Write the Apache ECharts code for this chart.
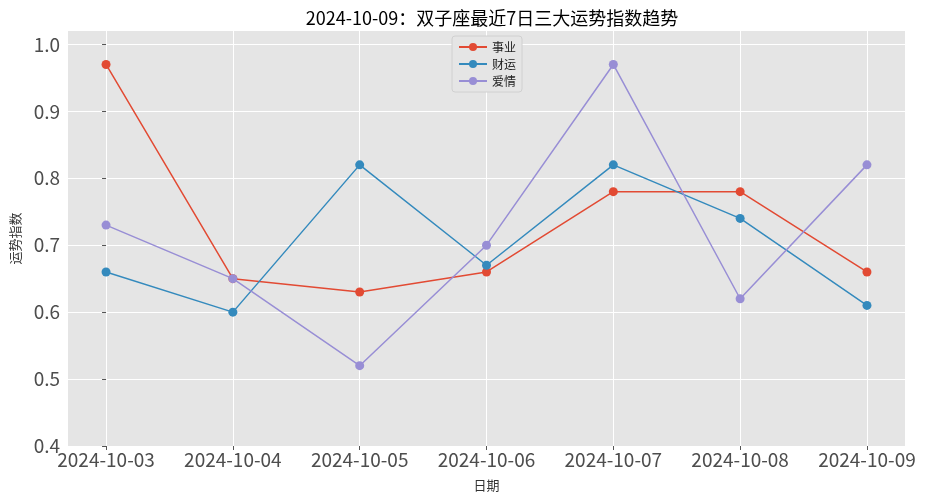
<!DOCTYPE html>
<html><head><meta charset="utf-8">
<script src="https://cdn.jsdelivr.net/npm/echarts@6/dist/echarts.min.js"></script>
<style>html,body{margin:0;padding:0;background:#fff}#c{width:929px;height:500px}</style>
</head><body><div id="c"></div>
<script>
const dates = ['2024-10-03','2024-10-04','2024-10-05','2024-10-06','2024-10-07','2024-10-08','2024-10-09'];
const career = [0.97, 0.65, 0.63, 0.66, 0.78, 0.78, 0.66];
const wealth = [0.66, 0.60, 0.82, 0.67, 0.82, 0.74, 0.61];
const love = [0.73, 0.65, 0.52, 0.70, 0.97, 0.62, 0.82];
const yTicks = [0.4, 0.5, 0.6, 0.7, 0.8, 0.9, 1.0];
const names = ['事业', '财运', '爱情'];
const colors = ['#E24A33', '#348ABD', '#988ED5'];
const seriesVals = [career, wealth, love];
const xIdx = dates.map((d, i) => i);
const font = "'Noto Sans CJK SC', sans-serif";

const chart = echarts.init(document.getElementById('c'), null, {renderer: 'canvas'});
chart.setOption({
  animation: false,
  backgroundColor: '#ffffff',
  title: {
    text: '2024-10-09：双子座最近7日三大运势指数趋势',
    left: 487, top: 4, textAlign: 'center',
    textStyle: {fontFamily: font, fontSize: 18, fontWeight: 'normal', color: '#000'}
  },
  legend: {
    orient: 'vertical', left: 452, top: 36,
    backgroundColor: '#e5e5e5', borderColor: '#d0d0d0', borderWidth: 1, borderRadius: 3,
    padding: [5, 6, 5, 6], itemGap: 5, itemWidth: 28, itemHeight: 10,
    textStyle: {fontFamily: font, fontSize: 12, color: '#222'},
    data: names
  },
  grid: {left: 68, right: 24, top: 31, bottom: 54, backgroundColor: '#E5E5E5', show: true, borderWidth: 0},
  xAxis: {
    type: 'value', min: -0.3, max: 6.3,
    name: '日期', nameLocation: 'middle', nameGap: 33,
    nameTextStyle: {fontFamily: font, fontSize: 13, color: '#333'},
    axisLine: {show: false},
    axisTick: {show: true, customValues: xIdx, length: 4, lineStyle: {color: '#555'}},
    axisLabel: {customValues: xIdx, formatter: v => dates[Math.round(v)], fontFamily: font, fontSize: 19, color: '#4d4d4d', margin: 4},
    splitLine: {show: true, lineStyle: {color: '#ffffff', width: 1}}
  },
  yAxis: {
    type: 'value', min: 0.4, max: 1.02,
    name: '运势指数', nameLocation: 'middle', nameGap: 46,
    nameTextStyle: {fontFamily: font, fontSize: 13, color: '#333'},
    axisLine: {show: false},
    axisTick: {show: true, customValues: yTicks, length: 4, lineStyle: {color: '#555'}},
    axisLabel: {customValues: yTicks, formatter: v => v.toFixed(1), fontFamily: font, fontSize: 19, color: '#4d4d4d', margin: 8},
    splitLine: {show: true, lineStyle: {color: '#ffffff', width: 1}}
  },
  series: names.map((n, k) => ({
    name: n, type: 'line',
    data: seriesVals[k].map((v, i) => [xIdx[i], v]),
    symbol: 'circle', symbolSize: 9,
    itemStyle: {color: colors[k]},
    lineStyle: {color: colors[k], width: 1.5},
    z: 2 + k
  }))
});
</script></body></html>
